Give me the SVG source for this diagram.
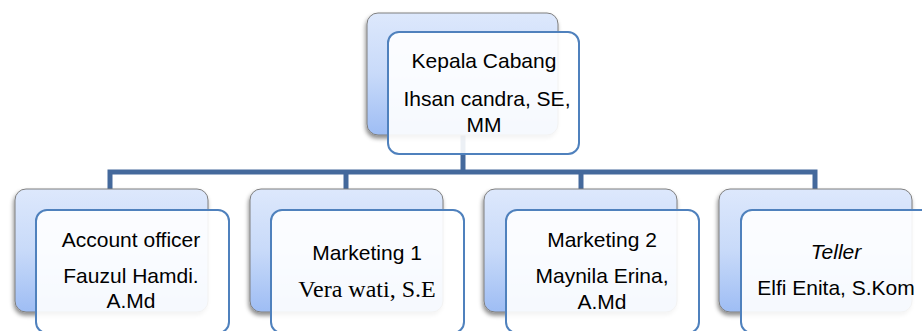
<svg xmlns="http://www.w3.org/2000/svg" width="922" height="331" viewBox="0 0 922 331">
<defs>
<linearGradient id="bg" x1="0" y1="0" x2="0" y2="1">
<stop offset="0" stop-color="#dde8fc"/>
<stop offset="0.5" stop-color="#c8daf9"/>
<stop offset="1" stop-color="#9ebdf4"/>
</linearGradient>
<filter id="sh" x="-10%" y="-10%" width="120%" height="125%">
<feDropShadow dx="-1" dy="3" stdDeviation="2" flood-color="#000" flood-opacity="0.45"/>
</filter>
</defs>
<style>
.back{fill:url(#bg);stroke:#7f7f7f;stroke-width:1;filter:url(#sh)}
.front{fill:#ffffff;fill-opacity:0.9;stroke:#4f81bd;stroke-width:2}
.conn{stroke:#44699c;stroke-width:5;fill:none;stroke-linejoin:miter}
text{font-family:"Liberation Sans",Arial,sans-serif;font-size:21px;fill:#000;text-anchor:middle}
.serif{font-family:"Liberation Serif","Times New Roman",serif;font-size:24px}
.it{font-style:italic}
</style>
<rect width="922" height="331" fill="#ffffff"/>
<g id="connectors">
<path class="conn" d="M463 135 V172"/>
<path class="conn" d="M110 192 V172 H815 V192"/>
<path class="conn" d="M346 172 V192"/>
<path class="conn" d="M581 172 V192"/>
</g>
<g id="kepala">
<rect class="back" x="367" y="13" width="191" height="122" rx="11"/>
<rect class="front" x="388" y="32" width="191" height="122" rx="11"/>
<text x="484" y="68">Kepala Cabang</text>
<text x="487" y="106">Ihsan candra, SE,</text>
<text x="484" y="132">MM</text>
</g>
<g id="account">
<rect class="back" x="15" y="189" width="193" height="123" rx="11"/>
<rect class="front" x="36" y="210" width="193" height="123" rx="11"/>
<text x="131" y="247">Account officer</text>
<text x="131" y="283">Fauzul Hamdi.</text>
<text x="131" y="308">A.Md</text>
</g>
<g id="marketing1">
<rect class="back" x="250" y="189" width="193" height="123" rx="11"/>
<rect class="front" x="271" y="210" width="193" height="123" rx="11"/>
<text x="367" y="260">Marketing 1</text>
<text class="serif" x="367" y="297">Vera wati, S.E</text>
</g>
<g id="marketing2">
<rect class="back" x="484" y="189" width="193" height="123" rx="11"/>
<rect class="front" x="506" y="210" width="193" height="123" rx="11"/>
<text x="602" y="247">Marketing 2</text>
<text x="602" y="283">Maynila Erina,</text>
<text x="602" y="309">A.Md</text>
</g>
<g id="teller">
<rect class="back" x="719" y="189" width="193" height="123" rx="11"/>
<rect class="front" x="741" y="210" width="193" height="123" rx="11"/>
<text class="it" x="836" y="259">Teller</text>
<text x="836" y="295">Elfi Enita, S.Kom</text>
</g>
</svg>
